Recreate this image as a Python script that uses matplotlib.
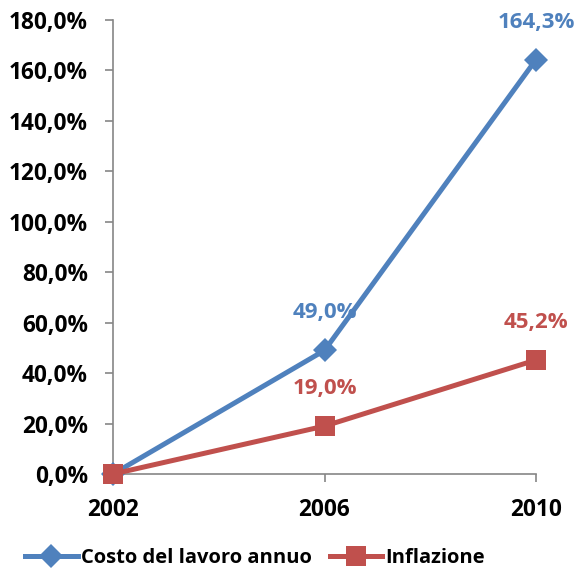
import matplotlib
matplotlib.use("Agg")
import matplotlib.pyplot as plt
from matplotlib.ticker import FuncFormatter, MultipleLocator

years = ["2002", "2006", "2010"]
costo = [0.0, 49.0, 164.3]
inflazione = [0.0, 19.0, 45.2]
label_costo = ["", "49,0%", "164,3%"]
label_infl = ["", "19,0%", "45,2%"]

blue = "#4F81BD"
red = "#C0504D"
axis_gray = "#868686"

plt.rcParams['font.family'] = ['Open Sans', 'DejaVu Sans']
plt.rcParams['font.weight'] = 'bold'

fig = plt.figure(figsize=(5.79, 5.75), dpi=100)
ax = fig.add_axes([113/579, 1-474/575, (536-113)/579, (474-20)/575])

x = list(range(len(years)))
ax.plot(x, costo, color=blue, lw=3.6, marker='D', markersize=12, markeredgewidth=0,
        label="Costo del lavoro annuo", zorder=3, clip_on=False)
ax.plot(x, inflazione, color=red, lw=3.6, marker='s', markersize=15, markeredgewidth=0,
        label="Inflazione", zorder=4, clip_on=False)

for xi, v, t in zip(x, costo, label_costo):
    if t:
        ax.annotate(t, (xi, v), xytext=(0, 27), textcoords='offset points', ha='center', va='center',
                    color=blue, fontsize=16, fontweight='bold', annotation_clip=False, zorder=2)
for xi, v, t in zip(x, inflazione, label_infl):
    if t:
        ax.annotate(t, (xi, v), xytext=(0, 27), textcoords='offset points', ha='center', va='center',
                    color=red, fontsize=16, fontweight='bold', annotation_clip=False, zorder=2)

ax.set_xlim(0, 2)
ax.set_ylim(0, 180)
ax.set_xticks(x)
ax.set_xticklabels(years)
ax.yaxis.set_major_locator(MultipleLocator(20))
ax.yaxis.set_major_formatter(FuncFormatter(lambda v, p: f"{v:.1f}%".replace('.', ',')))

for s in ['top', 'right']:
    ax.spines[s].set_visible(False)
for s in ['left', 'bottom']:
    ax.spines[s].set_color(axis_gray)
    ax.spines[s].set_linewidth(1.2)
ax.tick_params(axis='both', colors=axis_gray, length=6, width=1.2, direction='out', labelcolor='black', labelsize=16.3)
ax.tick_params(axis='x', pad=11)
ax.tick_params(axis='y', pad=12)
for lab in ax.get_xticklabels() + ax.get_yticklabels():
    lab.set_fontweight('bold')

leg = fig.legend(loc='center', bbox_to_anchor=(255/579, 1-558/575), ncol=2, frameon=False,
                 handlelength=2.6, columnspacing=0.9, handletextpad=0.15, prop={'weight': 'bold', 'size': 14.5})

fig.savefig("out.png", dpi=100)
